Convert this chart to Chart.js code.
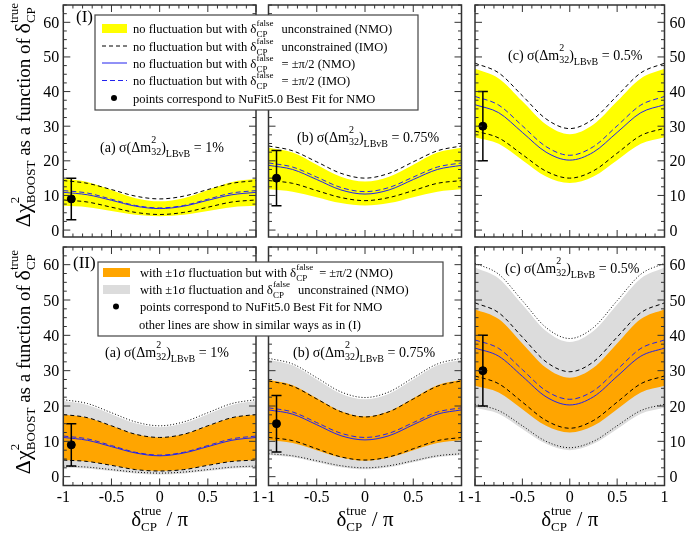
<!DOCTYPE html>
<html lang="en">
<head>
<meta charset="UTF-8">
<title>Delta chi2 BOOST vs delta CP</title>
<script src="https://cdn.jsdelivr.net/npm/chart.js"></script>
<style>
  body { margin: 0; background: #fff; }
  #wrap { position: relative; width: 685px; height: 536px; overflow: hidden; background: #fff; }
  #wrap canvas { position: absolute; left: 0; top: 0; }
</style>
</head>
<body>
<div id="wrap"></div>
<script>
// delta_CP^true / pi
const xs = [-1, -0.75, -0.5, -0.25, 0, 0.25, 0.5, 0.75, 1];

// (I) no fluctuation: yellow band (NMO unconstrained), black dashed (IMO unconstrained),
// blue solid / dashed (NMO / IMO with delta_false = +-pi/2)
const yellowHiA = [14.8, 13.9, 11.6, 9.2, 8.3, 9.2, 11.6, 13.9, 14.8];
const yellowLoA = [7.0, 6.6, 5.5, 4.4, 4.0, 4.4, 5.5, 6.6, 7.0];
const imoHiA    = [14.3, 13.5, 11.7, 9.8, 9.0, 9.8, 11.7, 13.5, 14.3];
const imoLoA    = [8.7, 8.1, 6.6, 5.1, 4.5, 5.1, 6.6, 8.1, 8.7];
const nmoPiA    = [10.9, 10.2, 8.6, 6.9, 6.2, 6.9, 8.6, 10.2, 10.9];
const imoPiA    = [11.4, 10.7, 8.9, 7.1, 6.4, 7.1, 8.9, 10.7, 11.4];

const yellowHiB = [23.8, 22.4, 18.9, 15.4, 14.0, 15.4, 18.9, 22.4, 23.8];
const yellowLoB = [11.8, 11.1, 9.5, 7.8, 7.1, 7.8, 9.5, 11.1, 11.8];
const imoHiB    = [24.3, 22.9, 19.7, 16.4, 15.0, 16.4, 19.7, 22.9, 24.3];
const imoLoB    = [14.3, 13.5, 11.4, 9.4, 8.5, 9.4, 11.4, 13.5, 14.3];
const nmoPiB    = [18.7, 17.5, 14.6, 11.6, 10.4, 11.6, 14.6, 17.5, 18.7];
const imoPiB    = [19.4, 18.2, 15.3, 12.3, 11.1, 12.3, 15.3, 18.2, 19.4];

const yellowHiC = [46.6, 43.8, 37.2, 30.5, 27.7, 30.5, 37.2, 43.8, 46.6];
const yellowLoC = [26.8, 24.9, 20.2, 15.5, 13.6, 15.5, 20.2, 24.9, 26.8];
const imoHiC    = [48.2, 45.4, 38.8, 32.1, 29.3, 32.1, 38.8, 45.4, 48.2];
const imoLoC    = [28.6, 26.6, 21.8, 17.0, 15.0, 17.1, 22.2, 27.3, 29.4];
const nmoPiC    = [36.2, 33.9, 28.2, 22.5, 20.2, 22.5, 28.2, 33.9, 36.2];
const imoPiC    = [38.6, 36.1, 30.1, 24.1, 21.6, 24.1, 30.1, 36.1, 38.6];

// (II) with +-1 sigma fluctuation: grey band, orange band, dotted and dashed lines
const greyHiA   = [21.4, 20.3, 17.7, 15.1, 14.0, 15.1, 17.7, 20.3, 21.4];
const greyLoA   = [2.6, 2.3, 1.6, 0.9, 0.6, 0.9, 1.6, 2.3, 2.6];
const orangeHiA = [17.6, 16.7, 14.4, 12.0, 11.1, 12.0, 14.4, 16.7, 17.6];
const orangeLoA = [4.7, 4.3, 3.2, 2.0, 1.6, 2.0, 3.2, 4.3, 4.7];
const dotHiA    = [21.8, 20.7, 18.1, 15.5, 14.4, 15.5, 18.1, 20.7, 21.8];
const dotLoA    = [3.0, 2.7, 2.0, 1.3, 1.0, 1.3, 2.0, 2.7, 3.0];
const dashHiA   = [17.6, 16.7, 14.4, 12.0, 11.1, 12.0, 14.4, 16.7, 17.6];
const dashLoA   = [4.7, 4.3, 3.2, 2.0, 1.6, 2.0, 3.2, 4.3, 4.7];
const nmoPi2A   = [11.1, 10.3, 8.5, 6.7, 5.9, 6.7, 8.5, 10.3, 11.1];
const imoPi2A   = [11.5, 10.7, 8.8, 6.9, 6.1, 6.9, 8.8, 10.7, 11.5];

const greyHiB   = [33.1, 31.5, 27.5, 23.5, 21.9, 23.5, 27.5, 31.5, 33.1];
const greyLoB   = [6.1, 5.5, 4.1, 2.7, 2.1, 2.7, 4.1, 5.5, 6.1];
const orangeHiB = [27.4, 25.9, 22.2, 18.5, 17.0, 18.5, 22.2, 25.9, 27.4];
const orangeLoB = [10.4, 9.5, 7.5, 5.4, 4.5, 5.4, 7.5, 9.5, 10.4];
const dotHiB    = [33.5, 31.9, 28.0, 24.0, 22.4, 24.0, 28.0, 31.9, 33.5];
const dotLoB    = [6.5, 5.9, 4.5, 3.1, 2.5, 3.1, 4.5, 5.9, 6.5];
const dashHiB   = [27.1, 25.6, 22.0, 18.4, 16.9, 18.4, 22.0, 25.6, 27.1];
const dashLoB   = [11.1, 10.2, 7.9, 5.6, 4.7, 5.6, 7.9, 10.2, 11.1];
const nmoPi2B   = [18.9, 17.7, 14.7, 11.6, 10.4, 11.6, 14.7, 17.7, 18.9];
const imoPi2B   = [19.5, 18.3, 15.3, 12.3, 11.1, 12.3, 15.3, 18.3, 19.5];

const greyHiC   = [59.2, 56.1, 48.7, 41.2, 38.1, 41.2, 48.7, 56.1, 59.2];
const greyLoC   = [19.5, 17.8, 13.5, 9.3, 7.5, 9.3, 13.5, 17.8, 19.5];
const orangeHiC = [47.4, 44.6, 37.7, 30.8, 28.0, 30.8, 37.7, 44.6, 47.4];
const orangeLoC = [25.7, 23.8, 19.1, 14.4, 12.5, 14.4, 19.1, 23.8, 25.7];
const dotHiC    = [60.4, 57.3, 49.8, 42.2, 39.1, 42.2, 49.8, 57.3, 60.4];
const dotLoC    = [20.5, 18.7, 14.4, 10.0, 8.2, 10.0, 14.4, 18.7, 20.5];
const dashHiC   = [49.2, 46.4, 39.5, 32.5, 29.7, 32.5, 39.5, 46.4, 49.2];
const dashLoC   = [28.5, 26.3, 21.1, 15.9, 13.7, 15.9, 21.1, 26.3, 28.5];
const nmoPi2C   = [36.4, 34.1, 28.4, 22.6, 20.3, 22.6, 28.4, 34.1, 36.4];
const imoPi2C   = [38.7, 36.3, 30.3, 24.3, 21.9, 24.3, 30.3, 36.3, 38.7];

// NuFit5.0 best fit (NMO) point with error bar, per column
const bestFitX  = -0.917;
const bestFitY  = [9, 15, 30];
const bestFitLo = [3, 7, 20];
const bestFitHi = [15, 23, 40];

const panelTags   = ['(a)', '(b)', '(c)'];
const sigmaLabels = ['1%', '0.75%', '0.5%'];
const xTickVals   = [-1, -0.5, 0, 0.5, 1];
const xTickLabels = ['-1', '-0.5', '0', '0.5', '1'];
const yTickVals   = [0, 10, 20, 30, 40, 50, 60];

const SERIF  = '"Liberation Serif", "DejaVu Serif", serif';
const YELLOW = '#ffff00';
const ORANGE = '#ffa500';
const GREY   = '#dcdcdc';
const BLUE   = '#2222ee';
const INK    = '#333';

const pts = vals => xs.map((x, i) => ({ x: x, y: vals[i] }));

function band(hi, lo, color, order) {
    return [
        { data: pts(hi), fill: '+1', backgroundColor: color, borderWidth: 0, pointRadius: 0,
          cubicInterpolationMode: 'monotone', order: order },
        { data: pts(lo), fill: false, borderWidth: 0, pointRadius: 0,
          cubicInterpolationMode: 'monotone', order: order }
    ];
}

function curve(vals, color, dash, order) {
    return { data: pts(vals), fill: false, borderColor: color, borderWidth: 1, borderDash: dash,
             pointRadius: 0, cubicInterpolationMode: 'monotone', order: order };
}

function bestFit(col) {
    return { data: [{ x: bestFitX, y: bestFitY[col] }], showLine: false, pointRadius: 4,
             pointBackgroundColor: '#000', pointBorderColor: '#000', order: 0 };
}

// rich text helpers (sub / superscripts)
function segWidth(ctx, s) {
    ctx.font = s.size + 'px ' + SERIF;
    if (s.sup !== undefined) {
        return Math.max(ctx.measureText(s.sup).width, ctx.measureText(s.sub).width) + (s.gap || 0);
    }
    return ctx.measureText(s.t).width + (s.gap || 0);
}
function richWidth(ctx, segs) { return segs.reduce((w, s) => w + segWidth(ctx, s), 0); }
function drawRich(ctx, segs, x, y) {
    let cx = x;
    segs.forEach(s => {
        ctx.font = s.size + 'px ' + SERIF;
        if (s.sup !== undefined) {
            ctx.fillText(s.sup, cx, y - s.up);
            ctx.fillText(s.sub, cx, y + s.down);
        } else {
            ctx.fillText(s.t, cx, y + (s.dy || 0));
        }
        cx += segWidth(ctx, s);
    });
    return cx;
}

const rowsGeom = [{ top: 0, bottom: 237, min: -2 }, { top: 247, bottom: 485.5, min: -2.5 }];
const colsGeom = [{ left: 63.3, right: 256 }, { left: 268.5, right: 461.5 }, { left: 475, right: 664.5 }];
const labelPos = [[[100, 152], [297, 142], [508, 60]], [[105, 357], [293, 357], [505, 273]]];

const panels = [
    { row: 0, col: 0, sets: [...band(yellowHiA, yellowLoA, YELLOW, 10), curve(imoHiA, '#000', [4, 3], 5),
        curve(imoLoA, '#000', [4, 3], 5), curve(nmoPiA, BLUE, [], 4), curve(imoPiA, BLUE, [5, 3], 4)] },
    { row: 0, col: 1, sets: [...band(yellowHiB, yellowLoB, YELLOW, 10), curve(imoHiB, '#000', [4, 3], 5),
        curve(imoLoB, '#000', [4, 3], 5), curve(nmoPiB, BLUE, [], 4), curve(imoPiB, BLUE, [5, 3], 4)] },
    { row: 0, col: 2, sets: [...band(yellowHiC, yellowLoC, YELLOW, 10), curve(imoHiC, '#000', [4, 3], 5),
        curve(imoLoC, '#000', [4, 3], 5), curve(nmoPiC, BLUE, [], 4), curve(imoPiC, BLUE, [5, 3], 4)] },
    { row: 1, col: 0, sets: [...band(greyHiA, greyLoA, GREY, 12), ...band(orangeHiA, orangeLoA, ORANGE, 11),
        curve(dotHiA, '#000', [1, 2], 5), curve(dotLoA, '#000', [1, 2], 5),
        curve(dashHiA, '#000', [4, 3], 5), curve(dashLoA, '#000', [4, 3], 5),
        curve(nmoPi2A, BLUE, [], 4), curve(imoPi2A, BLUE, [5, 3], 4)] },
    { row: 1, col: 1, sets: [...band(greyHiB, greyLoB, GREY, 12), ...band(orangeHiB, orangeLoB, ORANGE, 11),
        curve(dotHiB, '#000', [1, 2], 5), curve(dotLoB, '#000', [1, 2], 5),
        curve(dashHiB, '#000', [4, 3], 5), curve(dashLoB, '#000', [4, 3], 5),
        curve(nmoPi2B, BLUE, [], 4), curve(imoPi2B, BLUE, [5, 3], 4)] },
    { row: 1, col: 2, sets: [...band(greyHiC, greyLoC, GREY, 12), ...band(orangeHiC, orangeLoC, ORANGE, 11),
        curve(dotHiC, '#000', [1, 2], 5), curve(dotLoC, '#000', [1, 2], 5),
        curve(dashHiC, '#000', [4, 3], 5), curve(dashLoC, '#000', [4, 3], 5),
        curve(nmoPi2C, BLUE, [], 4), curve(imoPi2C, BLUE, [5, 3], 4)] }
];

const deltaFalse = gap => [{ t: 'δ', size: 13 }, { sup: 'false', sub: 'CP', size: 9, up: 7, down: 4, gap: gap }];

function drawLegendOne(ctx) {
    ctx.fillStyle = '#fff';
    ctx.fillRect(95, 15, 323, 95);
    ctx.strokeStyle = '#444'; ctx.lineWidth = 1.2; ctx.setLineDash([]);
    ctx.strokeRect(95, 15, 323, 95);
    const rowsY = [28.5, 46, 63, 80.5, 98];
    const lead = { t: 'no fluctuation but with ', size: 12.5 };
    const texts = [
        [lead, ...deltaFalse(8), { t: 'unconstrained (NMO)', size: 12.5 }],
        [lead, ...deltaFalse(8), { t: 'unconstrained (IMO)', size: 12.5 }],
        [lead, ...deltaFalse(8), { t: '= ±π/2 (NMO)', size: 12.5 }],
        [lead, ...deltaFalse(8), { t: '= ±π/2 (IMO)', size: 12.5 }],
        [{ t: 'points correspond to NuFit5.0 Best Fit for NMO', size: 12.5 }]
    ];
    ctx.fillStyle = YELLOW; ctx.fillRect(102, rowsY[0] - 4.5, 25, 9);
    ctx.lineWidth = 1;
    [[1, '#000', [4, 3]], [2, BLUE, []], [3, BLUE, [5, 3]]].forEach(([r, c, d]) => {
        ctx.strokeStyle = c; ctx.setLineDash(d);
        ctx.beginPath(); ctx.moveTo(102, rowsY[r]); ctx.lineTo(127, rowsY[r]); ctx.stroke();
    });
    ctx.setLineDash([]);
    ctx.fillStyle = '#000';
    ctx.beginPath(); ctx.arc(114, rowsY[4], 3, 0, 2 * Math.PI); ctx.fill();
    texts.forEach((segs, i) => drawRich(ctx, segs, 133, rowsY[i] + 4.5));
}

function drawLegendTwo(ctx) {
    ctx.fillStyle = '#fff';
    ctx.fillRect(98, 262, 345, 74);
    ctx.strokeStyle = '#444'; ctx.lineWidth = 1.2; ctx.setLineDash([]);
    ctx.strokeRect(98, 262, 345, 74);
    const rowsY = [272.5, 289.5, 306.5, 324];
    ctx.fillStyle = ORANGE; ctx.fillRect(103, rowsY[0] - 4.5, 27, 9);
    ctx.fillStyle = GREY; ctx.fillRect(103, rowsY[1] - 4.5, 27, 9);
    ctx.fillStyle = '#000';
    ctx.beginPath(); ctx.arc(116, rowsY[2], 3, 0, 2 * Math.PI); ctx.fill();
    const texts = [
        [{ t: 'with ±1σ fluctuation but with ', size: 12.5 }, ...deltaFalse(6), { t: '= ±π/2 (NMO)', size: 12.5 }],
        [{ t: 'with ±1σ fluctuation and ', size: 12.5 }, ...deltaFalse(8), { t: 'unconstrained (NMO)', size: 12.5 }],
        [{ t: 'points correspond to NuFit5.0 Best Fit for NMO', size: 12.5 }],
        [{ t: 'other lines are show in similar ways as in (I)', size: 12.5 }]
    ];
    texts.forEach((segs, i) => drawRich(ctx, segs, i === 3 ? 139 : 140, rowsY[i] + 4.5));
}

const yTitle = [
    { t: 'Δχ', size: 22 }, { sup: '2', sub: 'BOOST', size: 13, up: 11, down: 5 },
    { t: ' as a function of ', size: 19 }, { t: 'δ', size: 22 },
    { sup: 'true', sub: 'CP', size: 13, up: 12, down: 5 }
];
const xTitle = [
    { t: 'δ', size: 21 }, { sup: 'true', sub: 'CP', size: 13, up: 11, down: 5 }, { t: ' / π', size: 21 }
];

function makePlugin(p) {
    return {
        id: 'panelDeco',
        beforeDatasetDraw(chart, args) {
            if (args.index !== chart.data.datasets.length - 1) return;
            const ctx = chart.ctx, sx = chart.scales.x, sy = chart.scales.y;
            const px = sx.getPixelForValue(bestFitX);
            const top = sy.getPixelForValue(bestFitHi[p.col]), bot = sy.getPixelForValue(bestFitLo[p.col]);
            ctx.save();
            ctx.strokeStyle = '#000'; ctx.lineWidth = 1.5;
            ctx.beginPath();
            ctx.moveTo(px, top); ctx.lineTo(px, bot);
            ctx.moveTo(px - 5, top); ctx.lineTo(px + 5, top);
            ctx.moveTo(px - 5, bot); ctx.lineTo(px + 5, bot);
            ctx.stroke();
            ctx.restore();
        },
        afterDraw(chart) {
            const ctx = chart.ctx, a = chart.chartArea, sx = chart.scales.x, sy = chart.scales.y;
            ctx.save();
            // ticks, inward on all sides
            ctx.strokeStyle = INK; ctx.lineWidth = 1;
            ctx.beginPath();
            for (let i = -10; i <= 10; i++) {
                const px = sx.getPixelForValue(i / 10), len = i % 5 === 0 ? 7 : 3.5;
                ctx.moveTo(px, a.bottom); ctx.lineTo(px, a.bottom - len);
                ctx.moveTo(px, a.top); ctx.lineTo(px, a.top + len);
            }
            for (let i = Math.ceil(sy.min / 2.5); i * 2.5 <= sy.max; i++) {
                const py = sy.getPixelForValue(i * 2.5), len = i % 4 === 0 ? 7 : 3.5;
                ctx.moveTo(a.left, py); ctx.lineTo(a.left + len, py);
                ctx.moveTo(a.right, py); ctx.lineTo(a.right - len, py);
            }
            ctx.stroke();
            ctx.lineWidth = 1.5;
            ctx.strokeRect(a.left, a.top, a.right - a.left, a.bottom - a.top);

            ctx.fillStyle = '#000';
            ctx.font = '16px ' + SERIF;
            if (p.col === 0) {
                ctx.textAlign = 'right';
                yTickVals.forEach(v => ctx.fillText(String(v), a.left - 4, sy.getPixelForValue(v) + 5.5));
            }
            if (p.col === 2) {
                ctx.textAlign = 'left';
                yTickVals.forEach(v => ctx.fillText(String(v), a.right + 5, sy.getPixelForValue(v) + 5.5));
            }
            if (p.row === 1) {
                ctx.textAlign = 'center';
                xTickVals.forEach((v, i) => ctx.fillText(xTickLabels[i], sx.getPixelForValue(v), 502));
                ctx.textAlign = 'left';
                const w = richWidth(ctx, xTitle);
                drawRich(ctx, xTitle, (a.left + a.right) / 2 - w / 2, 526);
            }
            ctx.textAlign = 'left';

            // sigma annotation
            const lp = labelPos[p.row][p.col];
            drawRich(ctx, [
                { t: panelTags[p.col] + ' σ(Δm', size: 14 },
                { sup: '2', sub: '32', size: 10, up: 9, down: 3 },
                { t: ')', size: 14 }, { t: 'LBvB', size: 10, dy: 5 },
                { t: ' = ' + sigmaLabels[p.col], size: 14 }
            ], lp[0], lp[1]);

            if (p.col === 0) {
                ctx.font = '17px ' + SERIF;
                ctx.fillText(p.row === 0 ? '(I)' : '(II)', p.row === 0 ? 76 : 73, p.row === 0 ? 22 : 268);
                const w = richWidth(ctx, yTitle);
                ctx.save();
                ctx.translate(30, p.row === 0 ? 115 : 362);
                ctx.rotate(-Math.PI / 2);
                drawRich(ctx, yTitle, -w / 2, 0);
                ctx.restore();
            }
            if (p.col === 1 && p.row === 0) drawLegendOne(ctx);
            if (p.col === 1 && p.row === 1) drawLegendTwo(ctx);
            ctx.restore();
        }
    };
}

const wrap = document.getElementById('wrap');
panels.forEach(p => {
    const canvas = document.createElement('canvas');
    canvas.width = 685; canvas.height = 536;
    wrap.appendChild(canvas);
    const r = rowsGeom[p.row], c = colsGeom[p.col];
    new Chart(canvas.getContext('2d'), {
        type: 'line',
        data: { datasets: [...p.sets, bestFit(p.col)] },
        options: {
            responsive: false,
            animation: false,
            devicePixelRatio: 1,
            events: [],
            layout: { padding: { left: c.left, right: 685 - c.right, top: r.top, bottom: 536 - r.bottom } },
            plugins: { legend: { display: false }, tooltip: { enabled: false } },
            scales: {
                x: { type: 'linear', min: -1, max: 1, display: false },
                y: { type: 'linear', min: r.min, max: 65, display: false }
            }
        },
        plugins: [makePlugin(p)]
    });
});
</script>
</body>
</html>
